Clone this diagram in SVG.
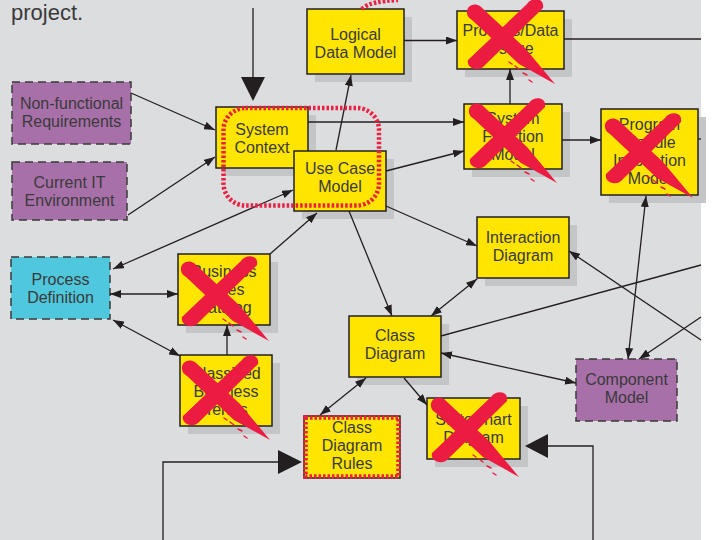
<svg xmlns="http://www.w3.org/2000/svg" xmlns:xlink="http://www.w3.org/1999/xlink" width="715" height="540" viewBox="0 0 715 540">
<style>
.bg{fill:#dcdddf}
.sh{fill:#c4c5c7}
.yb{fill:#ffe500;stroke:#231f20;stroke-width:1.5}
.pb{fill:#a870a9;stroke:#3a3a3a;stroke-width:1.5;stroke-dasharray:8 5}
.cb{fill:#4fc7dc;stroke:#3a3a3a;stroke-width:1.5;stroke-dasharray:8 5}
.t{font-family:"Liberation Sans",Arial,sans-serif;font-size:16px;fill:#3a3a3a;text-anchor:middle}
.ln{fill:none;stroke:#231f20;stroke-width:1.3}
.red{fill:none;stroke:#ec1e41;stroke-width:4.5;stroke-dasharray:2.5 2}
.xm{fill:#ec1b41}
.sp{fill:none;stroke:#ec1b41;stroke-width:1.4;stroke-linecap:round}
</style>
<defs>
<marker id="a" viewBox="0 0 11 8" refX="11" refY="4" markerWidth="11" markerHeight="8" markerUnits="userSpaceOnUse" orient="auto-start-reverse">
<path d="M0,0 L11,4 L0,8 z" fill="#231f20"/>
</marker>
<g id="xmark">
<path class="xm" d="M4,9 C3,2 11,-2 17,2 L62,44 L92,80 L56,60 L9,16 C6,14 4,12 4,9 Z"/>
<path class="xm" d="M64,0 C68,-7 82,-7 80,4 L20,63 C14,68 3,64 5,56 Z"/>
<path class="sp" d="M46,58 l3,2 M52,62 l4,3 M60,69 l4,2 M66,76 l3,2"/>
</g>
</defs>
<rect class="bg" x="0" y="0" width="701" height="540"/>
<rect x="701" y="0" width="14" height="540" fill="#ffffff"/>
<text x="11" y="20" font-family="Liberation Sans,Arial,sans-serif" font-size="22" fill="#3a3a3a">project.</text>

<g id="non-functional-requirements">
<rect class="pb" x="12" y="82" width="119" height="62"/>
<text class="t" x="71.5" y="108.5">Non-functional</text>
<text class="t" x="71.5" y="126.5">Requirements</text>
</g>
<g id="current-it-environment">
<rect class="pb" x="12" y="162" width="115" height="58"/>
<text class="t" x="69.5" y="187.6">Current IT</text>
<text class="t" x="69.5" y="205.6">Environment</text>
</g>
<g id="system-context">
<rect class="sh" x="224" y="115" width="92" height="61"/>
<rect class="yb" x="216" y="107" width="92" height="61"/>
<text class="t" x="262" y="134.6">System</text>
<text class="t" x="262" y="152.6">Context</text>
</g>
<g id="use-case-model">
<rect class="sh" x="302" y="159" width="92" height="60"/>
<rect class="yb" x="294" y="151" width="92" height="60"/>
<text class="t" x="340" y="173.6">Use Case</text>
<text class="t" x="340" y="191.6">Model</text>
</g>
<g id="logical-data-model">
<rect class="sh" x="315" y="17" width="97" height="65"/>
<rect class="yb" x="307" y="9" width="97" height="65"/>
<text class="t" x="355.5" y="39.6">Logical</text>
<text class="t" x="355.5" y="57.6">Data Model</text>
</g>
<g id="process-data-usage">
<rect class="sh" x="465" y="19" width="107" height="58"/>
<rect class="yb" x="457" y="11" width="107" height="58"/>
<text class="t" x="510.5" y="35.9">Process/Data</text>
<text class="t" x="510.5" y="53.9">Usage</text>
<use xlink:href="#xmark" x="463" y="4"/>
</g>
<g id="system-function-model">
<rect class="sh" x="472" y="112" width="98" height="65"/>
<rect class="yb" x="464" y="104" width="98" height="65"/>
<text class="t" x="513" y="124.4">System</text>
<text class="t" x="513" y="142.4">Function</text>
<text class="t" x="513" y="160.4">Model</text>
<use xlink:href="#xmark" x="465" y="103"/>
</g>
<g id="program-module-invocation-model">
<rect class="sh" x="609" y="117" width="97" height="86"/>
<rect class="yb" x="601" y="109" width="97" height="86"/>
<text class="t" x="649.5" y="129.7">Program</text>
<text class="t" x="649.5" y="147.7">Module</text>
<text class="t" x="649.5" y="165.7">Invocation</text>
<text class="t" x="649.5" y="183.7">Model</text>
<use xlink:href="#xmark" x="601" y="118"/>
</g>
<g id="interaction-diagram">
<rect class="sh" x="485" y="225" width="92" height="61"/>
<rect class="yb" x="477" y="217" width="92" height="61"/>
<text class="t" x="523" y="242.9">Interaction</text>
<text class="t" x="523" y="260.9">Diagram</text>
</g>
<g id="class-diagram">
<rect class="sh" x="357" y="324" width="92" height="61"/>
<rect class="yb" x="349" y="316" width="92" height="61"/>
<text class="t" x="395" y="340.9">Class</text>
<text class="t" x="395" y="358.9">Diagram</text>
</g>
<g id="process-definition">
<rect class="cb" x="11" y="257" width="99" height="62"/>
<text class="t" x="60.5" y="284.6">Process</text>
<text class="t" x="60.5" y="302.6">Definition</text>
</g>
<g id="business-rules-catalog">
<rect class="sh" x="186" y="262" width="92" height="71"/>
<rect class="yb" x="178" y="254" width="92" height="71"/>
<text class="t" x="224" y="277.2">Business</text>
<text class="t" x="224" y="295.2">Rules</text>
<text class="t" x="224" y="313.2">Catalog</text>
<use xlink:href="#xmark" x="177" y="261"/>
</g>
<g id="classified-business-terms">
<rect class="sh" x="188" y="363" width="92" height="71"/>
<rect class="yb" x="180" y="355" width="92" height="71"/>
<text class="t" x="226" y="378.7">Classified</text>
<text class="t" x="226" y="396.7">Business</text>
<text class="t" x="226" y="414.7">Terms</text>
<use xlink:href="#xmark" x="178" y="360"/>
</g>
<g id="class-diagram-rules">
<rect class="yb" x="304" y="416" width="96" height="62" stroke="none"/>
<rect class="red" x="305.5" y="417.5" width="93" height="59"/>
<text class="t" x="352" y="433.2">Class</text>
<text class="t" x="352" y="451.2">Diagram</text>
<text class="t" x="352" y="469.2">Rules</text>
</g>
<g id="statechart-diagram">
<rect class="sh" x="435" y="406" width="93" height="61"/>
<rect class="yb" x="427" y="398" width="93" height="61"/>
<text class="t" x="473.5" y="424.6">StateChart</text>
<text class="t" x="473.5" y="442.6">Diagram</text>
<use xlink:href="#xmark" x="427" y="397"/>
</g>
<g id="component-model">
<rect class="pb" x="576" y="359" width="101" height="62"/>
<text class="t" x="626.5" y="384.6">Component</text>
<text class="t" x="626.5" y="402.6">Model</text>
</g>

<g id="connectors">
<path class="ln" d="M253,8 V78"/>
<polygon points="241,77 265,77 253,101" fill="#231f20"/>
<path class="ln" d="M131,93 L215,130" marker-end="url(#a)"/>
<path class="ln" d="M128,215 L215,157" marker-end="url(#a)"/>
<path class="ln" d="M308,122 H464" marker-end="url(#a)"/>
<path class="ln" d="M386,171 L464,151" marker-end="url(#a)"/>
<path class="ln" d="M336,150 L351,75" marker-end="url(#a)"/>
<path class="ln" d="M404,40.5 H457" marker-end="url(#a)"/>
<path class="ln" d="M564,39 H701"/>
<path class="ln" d="M510,104 V69" marker-end="url(#a)"/>
<path class="ln" d="M562,140 H601" marker-end="url(#a)"/>
<path class="ln" d="M698,139 H701"/>
<path class="ln" d="M113,269 L293,190" marker-start="url(#a)" marker-end="url(#a)"/>
<path class="ln" d="M270,254 L317,213" marker-end="url(#a)"/>
<path class="ln" d="M110,294 H178" marker-start="url(#a)" marker-end="url(#a)"/>
<path class="ln" d="M113,320 L180,356" marker-start="url(#a)" marker-end="url(#a)"/>
<path class="ln" d="M227,355 V325" marker-end="url(#a)"/>
<path class="ln" d="M386,206 L477,246" marker-end="url(#a)"/>
<path class="ln" d="M349,211 L392,316" marker-end="url(#a)"/>
<path class="ln" d="M477,279 L431,316" marker-start="url(#a)" marker-end="url(#a)"/>
<path class="ln" d="M441,336 L701,265"/>
<path class="ln" d="M701,340 L569,251" marker-end="url(#a)"/>
<path class="ln" d="M701,317 L639,359" marker-end="url(#a)"/>
<path class="ln" d="M646,196 L628,359" marker-start="url(#a)" marker-end="url(#a)"/>
<path class="ln" d="M441,353 L576,383" marker-start="url(#a)" marker-end="url(#a)"/>
<path class="ln" d="M366,378 L320,415" marker-start="url(#a)" marker-end="url(#a)"/>
<path class="ln" d="M404,378 L427,405" marker-end="url(#a)"/>
<path class="ln" d="M163,540 V462 H279"/>
<polygon points="278,450 278,474 302,462" fill="#231f20"/>
<path class="ln" d="M593,540 V446 H547"/>
<polygon points="548,434 548,458 525,446" fill="#231f20"/>
</g>

<g id="highlights">
<rect class="red" x="223.5" y="108" width="155.5" height="97.5" rx="22" ry="22"/>
<path class="red" d="M362,9 C368,3 380,1 398,0"/>
</g>
</svg>
